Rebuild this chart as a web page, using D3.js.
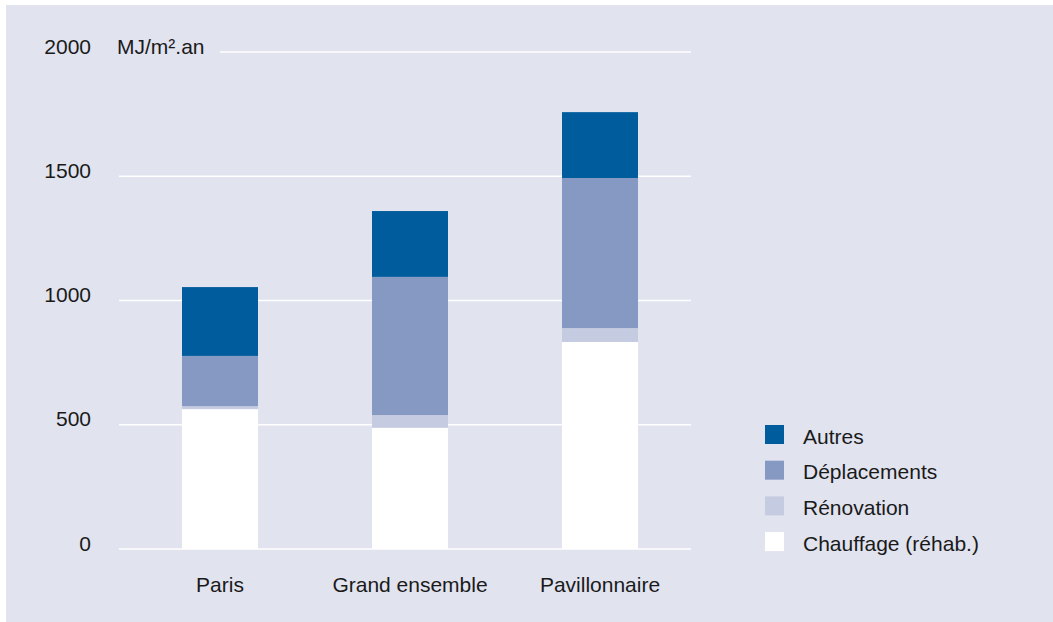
<!DOCTYPE html>
<html><head><meta charset="utf-8">
<script src="https://cdn.jsdelivr.net/npm/d3@7"></script>
<style>
body{margin:0;background:#fff;}
svg text{font-family:"Liberation Sans",Arial,sans-serif;fill:#1a1a1a;font-size:21px;}
</style></head>
<body>
<svg id="c" width="1053" height="622"></svg>
<script>
const categories = ["Paris", "Grand ensemble", "Pavillonnaire"];
const seriesNames = ["Chauffage (réhab.)", "Rénovation", "Déplacements", "Autres"];
const chauffage = [563, 488, 833];
const renovation = [12, 51, 56];
const deplacements = [202, 556, 604];
const autres = [277, 265, 265];
const yTicks = [0, 500, 1000, 1500, 2000];
const unitLabel = "MJ/m².an";
const colors = ["#ffffff", "#c5cbe0", "#8699c3", "#005c9c"];

const svg = d3.select("#c");
svg.append("rect").attr("x",6).attr("y",5).attr("width",1047).attr("height",617).attr("fill","#e1e3ef");

const y = d3.scaleLinear().domain([0,2000]).range([549,52]);
const x = d3.scaleBand().domain(categories).range([125,695]).paddingInner(0.6).paddingOuter(0.3);

// gridlines
const gx0 = 119, gx1 = 691;
svg.append("g").selectAll("line").data(yTicks).join("line")
  .attr("x1", d => d===2000 ? 220 : gx0).attr("x2", gx1)
  .attr("y1", d => y(d)).attr("y2", d => y(d))
  .attr("stroke","#ffffff").attr("stroke-width",1.5);

// y labels
const yAxis = d3.axisLeft(y).tickValues(yTicks).tickFormat(d3.format("d")).tickSize(0).tickPadding(0);
const ya = svg.append("g").attr("transform","translate(91,-5.5)").call(yAxis);
ya.attr("font-family",null).attr("font-size",null);
ya.select(".domain").remove();

svg.append("text").attr("x",117).attr("y",y(2000)+1.5).text(unitLabel);

// stacked data
const rows = categories.map((c,i)=>({cat:c, s0:chauffage[i], s1:renovation[i], s2:deplacements[i], s3:autres[i]}));
const stack = d3.stack().keys(["s0","s1","s2","s3"])(rows);

svg.append("g").selectAll("g").data(stack).join("g")
  .attr("fill",(d,i)=>colors[i])
  .selectAll("rect").data(d=>d).join("rect")
  .attr("x", d=>x(d.data.cat))
  .attr("width", x.bandwidth())
  .attr("y", d=>y(d[1]))
  .attr("height", d=>y(d[0])-y(d[1]));

// x labels
const xAxis = d3.axisBottom(x).tickSize(0).tickPadding(0);
const xa = svg.append("g").attr("transform","translate(0,592)").call(xAxis);
xa.attr("font-family",null).attr("font-size",null);
xa.select(".domain").remove();
xa.selectAll("text").attr("dy","0");

// legend
const legendOrder = [3,2,1,0];
const lg = svg.append("g").selectAll("g").data(legendOrder).join("g")
  .attr("transform",(d,i)=>`translate(765,${425+i*35.7})`);
lg.append("rect").attr("width",19).attr("height",19).attr("fill",d=>colors[d]);
lg.append("text").attr("x",38).attr("y",18.5).text(d=>seriesNames[d]);
</script>
</body></html>
